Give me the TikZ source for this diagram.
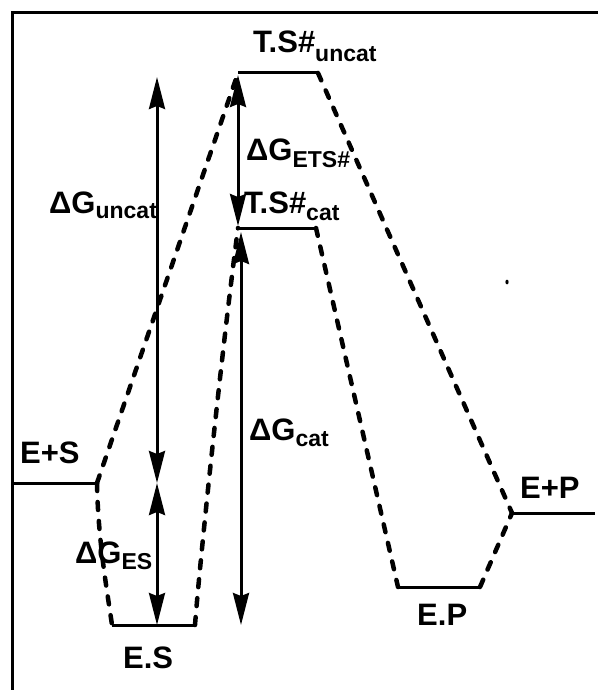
\documentclass[tikz,border=0pt]{standalone}
\usepackage{fontspec}
\setmainfont{Liberation Sans}
\usetikzlibrary{arrows.meta}
\newcommand{\mysub}[2][4pt]{\raisebox{-#1}{\fontsize{23}{23}\selectfont #2}}
\tikzset{
  level/.style={line width=3pt},
  path/.style={line width=4.5pt, line cap=round, dash pattern=on 8pt off 11pt},
  energy/.style={line width=3pt, {Stealth[length=32pt,width=16pt,inset=3pt]}-{Stealth[length=32pt,width=16pt,inset=3pt]}},
  lbl/.style={anchor=base west, inner sep=0pt, font=\bfseries\fontsize{31}{36}\selectfont},
}
\begin{document}
\begin{tikzpicture}[x=1pt,y=-1pt]
\useasboundingbox (0,0) rectangle (598,690);
% frame
\draw[line width=3pt] (12,690) -- (12,13) -- (598,13);
% levels
\coordinate (ESa) at (12,483);  \coordinate (ESb) at (97,483);
\coordinate (CXa) at (112,625); \coordinate (CXb) at (195,625);
\coordinate (TUa) at (238,73);  \coordinate (TUb) at (318,73);
\coordinate (TCa) at (238,228); \coordinate (TCb) at (316,228);
\coordinate (EPa) at (398,587); \coordinate (EPb) at (480,587);
\coordinate (PPa) at (512,513); \coordinate (PPb) at (595,513);
\draw[level] (ESa) -- (ESb);
\draw[level] (CXa) -- (CXb);
\draw[level] (TUa) -- (TUb);
\draw[level] (TCa) -- (TCb);
\draw[level] (EPa) -- (EPb);
\draw[level] (PPa) -- (PPb);
% reaction paths
\draw[path] (ESb) -- (TUa);
\draw[path] (TUb) -- (PPa);
\draw[path] (ESb) .. controls (98,540) and (107,590) .. (CXa);
\draw[path] (CXb) .. controls (200,560) and (222,350) .. (TCa);
\draw[path] (TCb) -- (EPa);
\draw[path] (EPb) -- (PPa);
% energy arrows
\coordinate (u1) at (157,77);  \coordinate (u2) at (157,483);
\coordinate (s2) at (157,625);
\coordinate (e1) at (238,75);  \coordinate (e2) at (238,226);
\coordinate (c1) at (241,232); \coordinate (c2) at (241,625);
\draw[energy] (u1) -- (u2);
\draw[energy] (u2) -- (s2);
\draw[energy] (e1) -- (e2);
\draw[energy] (c1) -- (c2);
% labels
\node[lbl] (lTU) at (253,53) {T.S\#\mysub[9pt]{uncat}};
\node[lbl] (lTC) at (244,213) {T.S\#\mysub[7pt]{cat}};
\node[lbl] (lETS) at (246,160) {ΔG\mysub[7pt]{ETS\#}};
\node[lbl] (lUN) at (49,213) {ΔG\mysub[5pt]{uncat}};
\node[lbl] (lCAT) at (249,440) {ΔG\mysub[6pt]{cat}};
\node[lbl] (lESg) at (75,563) {ΔG\mysub[6pt]{ES}};
\node[lbl] (lES) at (20,463) {E+S};
\node[lbl] (lCX) at (123,668) {E.S};
\node[lbl] (lEP) at (417,625) {E.P};
\node[lbl] (lPP) at (520,498) {E+P};
% speck
\fill (507,282) ellipse (1.6pt and 2.4pt);
\end{tikzpicture}
\end{document}
